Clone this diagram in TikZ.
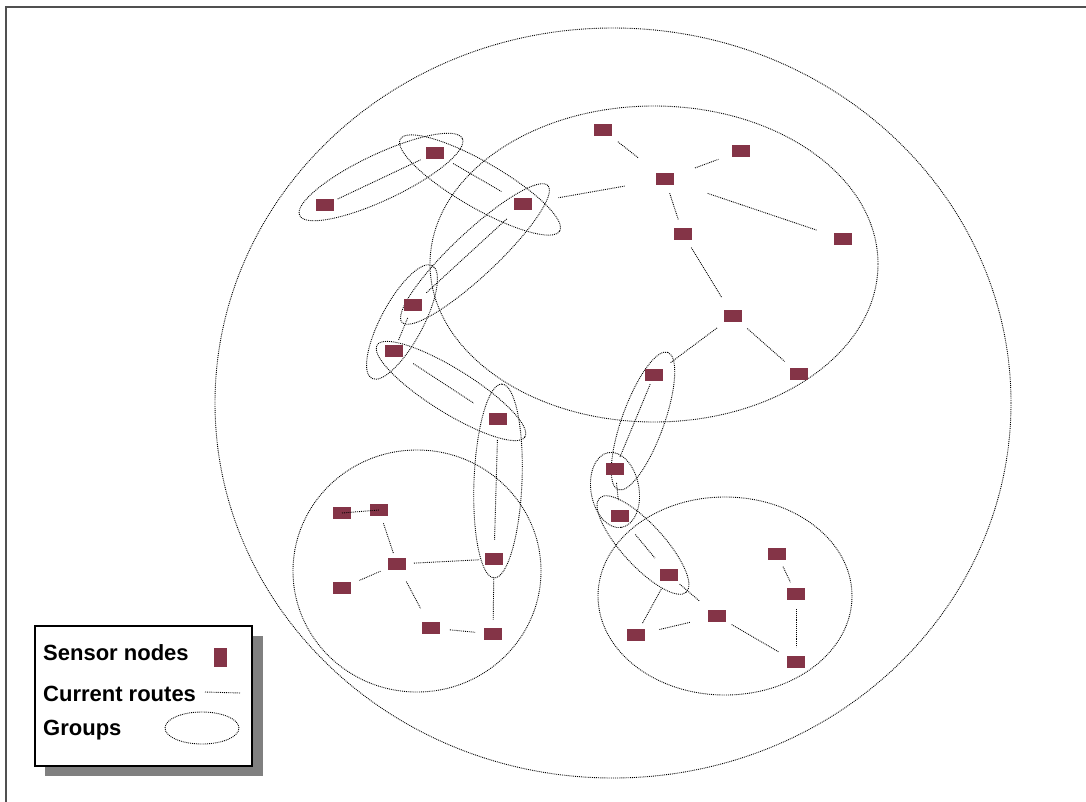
\documentclass[tikz,border=0pt]{standalone}
\usepackage{fontspec}
\setmainfont{Liberation Sans}
\definecolor{sensorc}{RGB}{132,52,71}
\definecolor{shadowc}{RGB}{128,128,128}
\definecolor{framec}{RGB}{80,80,80}
\begin{document}
\begin{tikzpicture}[x=1pt,y=-1pt,
  sensor/.style={fill=sensorc, draw=none, minimum width=18pt, minimum height=12pt, inner sep=0pt},
  route/.style={densely dotted, line width=0.9pt},
  grp/.style={densely dotted, line width=0.9pt},
  legtext/.style={anchor=base west, inner sep=0pt, font=\fontsize{22}{26}\selectfont\bfseries},
  legendbox/.style={draw=black, fill=white, line width=1.3pt},
  ]
\useasboundingbox (0,0) rectangle (1086,802);
% frame (top and left edges)
\draw[framec, line width=1.4pt] (6,802) -- (6,7) -- (1086,7);

% big groups
\draw[grp] (613,403) ellipse [x radius=398pt, y radius=375pt];
\draw[grp] (654,264) ellipse [x radius=224pt, y radius=158pt];
\draw[grp] (417,571) ellipse [x radius=124pt, y radius=121pt];
\draw[grp] (725,596) ellipse [x radius=127pt, y radius=99pt];

% small groups
\draw[grp, rotate around={25.3:(381,177)}] (381,177) ellipse [x radius=90pt, y radius=23pt];
\draw[grp, rotate around={-30:(480,185)}] (480,185) ellipse [x radius=92pt, y radius=23pt];
\draw[grp, rotate around={43.2:(475,254)}] (475,254) ellipse [x radius=100pt, y radius=22pt];
\draw[grp, rotate around={61.8:(402,322)}] (402,322) ellipse [x radius=64pt, y radius=21pt];
\draw[grp, rotate around={-31.9:(451,391)}] (451,391) ellipse [x radius=87pt, y radius=22pt];
\draw[grp, rotate around={87.7:(498,481)}] (498,481) ellipse [x radius=97pt, y radius=24pt];
\draw[grp, rotate around={70.1:(643,421)}] (643,421) ellipse [x radius=73pt, y radius=21pt];
\draw[grp, rotate around={-80:(615,490)}] (615,490) ellipse [x radius=38pt, y radius=24pt];
\draw[grp, rotate around={-47.5:(643,545)}] (643,545) ellipse [x radius=64pt, y radius=21pt];

% sensor nodes
\node[sensor] (n1) at (603,130) {};
\node[sensor] (n2) at (741,151) {};
\node[sensor] (n3) at (665,179) {};
\node[sensor] (n4) at (683,234) {};
\node[sensor] (n5) at (843,239) {};
\node[sensor] (n6) at (733,316) {};
\node[sensor] (n7) at (799,374) {};
\node[sensor] (n8) at (654,375) {};
\node[sensor] (n9) at (435,153) {};
\node[sensor] (n10) at (325,205) {};
\node[sensor] (n11) at (523,204) {};
\node[sensor] (n12) at (413,305) {};
\node[sensor] (n13) at (394,351) {};
\node[sensor] (n14) at (498,419) {};
\node[sensor] (n15) at (342,513) {};
\node[sensor] (n16) at (379,510) {};
\node[sensor] (n17) at (397,564) {};
\node[sensor] (n18) at (342,588) {};
\node[sensor] (n19) at (431,628) {};
\node[sensor] (n20) at (493,634) {};
\node[sensor] (n21) at (494,559) {};
\node[sensor] (n22) at (615,469) {};
\node[sensor] (n23) at (620,516) {};
\node[sensor] (n24) at (669,575) {};
\node[sensor] (n25) at (717,616) {};
\node[sensor] (n26) at (636,635) {};
\node[sensor] (n27) at (777,554) {};
\node[sensor] (n28) at (796,594) {};
\node[sensor] (n29) at (796,662) {};

% routes
\draw[route, shorten <=19pt, shorten >=34pt] (n1.center) -- (n3.center);
\draw[route, shorten <=32pt, shorten >=24pt] (n3.center) -- (n2.center);
\draw[route, shorten <=41pt, shorten >=36pt] (n3.center) -- (n11.center);
\draw[route, shorten <=15pt, shorten >=15pt] (n3.center) -- (n4.center);
\draw[route, shorten <=45pt, shorten >=27pt] (n3.center) -- (n5.center);
\draw[route, shorten <=16pt, shorten >=22pt] (n4.center) -- (n6.center);
\draw[route, shorten <=20pt, shorten >=20pt] (n6.center) -- (n8.center);
\draw[route, shorten <=19pt, shorten >=19pt] (n6.center) -- (n7.center);
\draw[route, shorten <=14pt, shorten >=16pt] (n10.center) -- (n9.center);
\draw[route, shorten <=21pt, shorten >=25pt] (n9.center) -- (n11.center);
\draw[route, shorten <=22pt, shorten >=18pt] (n11.center) -- (n12.center);
\draw[route, shorten <=14pt, shorten >=12pt] (n12.center) -- (n13.center);
\draw[route, shorten <=23pt, shorten >=29pt] (n13.center) -- (n14.center);
\draw[route, shorten <=21pt, shorten >=19pt] (n14.center) -- (n21.center);
\draw[route] (n15.center) -- (n16.center);
\draw[route, shorten <=14pt, shorten >=11pt] (n16.center) -- (n17.center);
\draw[route, shorten <=18pt, shorten >=19pt] (n17.center) -- (n18.center);
\draw[route, shorten <=17pt, shorten >=15pt] (n17.center) -- (n21.center);
\draw[route, shorten <=20pt, shorten >=22pt] (n17.center) -- (n19.center);
\draw[route, shorten <=19pt, shorten >=18pt] (n19.center) -- (n20.center);
\draw[route, shorten <=18pt, shorten >=14pt] (n21.center) -- (n20.center);
\draw[route, shorten <=10pt, shorten >=13pt] (n8.center) -- (n22.center);
\draw[route, shorten <=14pt, shorten >=16pt] (n22.center) -- (n23.center);
\draw[route, shorten <=24pt, shorten >=22pt] (n23.center) -- (n24.center);
\draw[route, shorten <=14pt, shorten >=23pt] (n24.center) -- (n25.center);
\draw[route, shorten <=16pt, shorten >=13pt] (n24.center) -- (n26.center);
\draw[route, shorten <=24pt, shorten >=27pt] (n26.center) -- (n25.center);
\draw[route, shorten <=17pt, shorten >=20pt] (n25.center) -- (n29.center);
\draw[route, shorten <=14pt, shorten >=13pt] (n27.center) -- (n28.center);
\draw[route, shorten <=15pt, shorten >=15pt] (n28.center) -- (n29.center);

% legend
\fill[shadowc] (45,636) rectangle (263,776);
\node[legendbox, minimum width=217pt, minimum height=140pt, inner sep=0pt] (legend) at (143.5,696) {};
\node[legtext] (t1) at (43,660) {Sensor nodes};
\node[legtext] (t2) at (43,701) {Current routes};
\node[legtext] (t3) at (43,735) {Groups};
\node[sensor, minimum width=13pt, minimum height=19pt] (ls) at (220.5,657.5) {};
\coordinate (lr1) at (205,692);
\coordinate (lr2) at (240,693);
\draw[route] (lr1) -- (lr2);
\draw[grp] (202,728) ellipse [x radius=37pt, y radius=16pt];
\end{tikzpicture}
\end{document}
